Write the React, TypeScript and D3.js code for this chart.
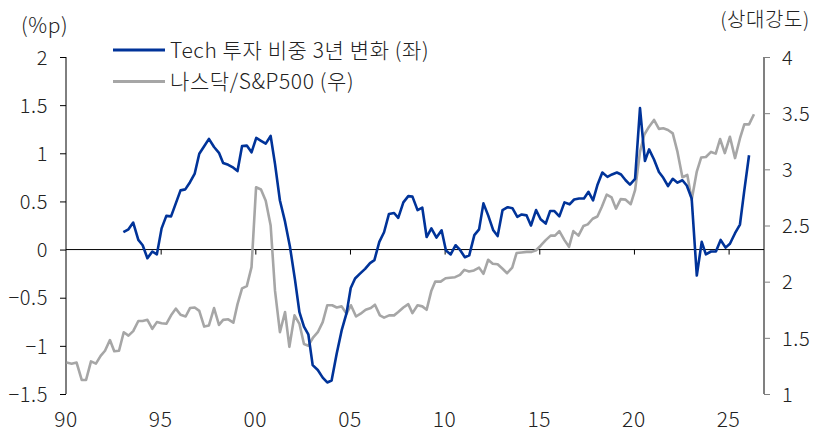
import * as d3 from 'd3';
import React, { useEffect, useRef } from 'react';

// Tech 투자 비중 3년 변화 (좌, %p)
const techYears = [
  1993.03, 1993.3, 1993.55, 1993.82, 1994.05, 1994.3, 1994.56, 1994.8, 1995.05, 1995.3, 1995.55, 1995.8,
  1996.05, 1996.3, 1996.55, 1996.8, 1997.04, 1997.29, 1997.55, 1997.82, 1998.08, 1998.3, 1998.57, 1998.84,
  1999.06, 1999.3, 1999.55, 1999.8, 2000.05, 2000.3, 2000.55, 2000.81, 2001.04, 2001.3, 2001.57, 2001.83,
  2002.1, 2002.33, 2002.57, 2002.8, 2003.03, 2003.3, 2003.56, 2003.8, 2004.03, 2004.3, 2004.56, 2004.82,
  2005.04, 2005.27, 2005.53, 2005.8, 2006.06, 2006.29, 2006.55, 2006.8, 2007.06, 2007.33, 2007.55, 2007.82,
  2008.08, 2008.3, 2008.57, 2008.82, 2009.05, 2009.3, 2009.57, 2009.84, 2010.07, 2010.32, 2010.58, 2010.8,
  2011.07, 2011.3, 2011.57, 2011.82, 2012.05, 2012.3, 2012.57, 2012.8, 2013.06, 2013.33, 2013.58, 2013.84,
  2014.07, 2014.33, 2014.56, 2014.83, 2015.07, 2015.34, 2015.57, 2015.8, 2016.06, 2016.33, 2016.6, 2016.84,
  2017.1, 2017.36, 2017.6, 2017.84, 2018.07, 2018.33, 2018.6, 2018.84, 2019.1, 2019.32, 2019.56, 2019.79,
  2020.06, 2020.32, 2020.58, 2020.8, 2021.06, 2021.32, 2021.55, 2021.8, 2022.05, 2022.3, 2022.56, 2022.79,
  2023.05, 2023.32, 2023.58, 2023.8, 2024.07, 2024.33, 2024.58, 2024.84, 2025.07, 2025.34, 2025.6, 2025.83,
  2026.08,
];
const techValues = [
  0.18, 0.21, 0.28, 0.1, 0.045, -0.09, -0.02, -0.05, 0.22, 0.35, 0.345, 0.48,
  0.615, 0.625, 0.7, 0.79, 0.995, 1.07, 1.15, 1.065, 1.005, 0.9, 0.88, 0.85,
  0.815, 1.075, 1.08, 1.01, 1.16, 1.13, 1.1, 1.18, 0.89, 0.51, 0.29, 0.03,
  -0.32, -0.65, -0.8, -0.88, -1.2, -1.25, -1.33, -1.38, -1.36, -1.08, -0.84, -0.66,
  -0.4, -0.3, -0.25, -0.2, -0.14, -0.11, 0.08, 0.18, 0.37, 0.38, 0.33, 0.49,
  0.555, 0.55, 0.41, 0.435, 0.13, 0.22, 0.125, 0.2, -0.01, -0.05, 0.045, 0.0,
  -0.08, -0.06, 0.15, 0.21, 0.48, 0.355, 0.2, 0.14, 0.41, 0.44, 0.43, 0.34,
  0.365, 0.355, 0.25, 0.41, 0.315, 0.27, 0.4, 0.4, 0.345, 0.49, 0.47, 0.52,
  0.53, 0.53, 0.6, 0.51, 0.67, 0.8, 0.755, 0.78, 0.8, 0.78, 0.72, 0.675,
  0.735, 1.47, 0.92, 1.04, 0.935, 0.805, 0.745, 0.66, 0.735, 0.695, 0.72, 0.665,
  0.53, -0.27, 0.08, -0.05, -0.02, -0.02, 0.1, 0.02, 0.06, 0.17, 0.26, 0.615,
  0.98,
];

// 나스닥/S&P500 상대강도 (우)
const ratioYears = [
  1990.03, 1990.3, 1990.56, 1990.83, 1991.06, 1991.32, 1991.58, 1991.83, 1992.06, 1992.32, 1992.55, 1992.8,
  1993.05, 1993.3, 1993.55, 1993.82, 1994.05, 1994.3, 1994.56, 1994.8, 1995.05, 1995.3, 1995.55, 1995.8,
  1996.05, 1996.32, 1996.55, 1996.8, 1997.04, 1997.3, 1997.55, 1997.82, 1998.08, 1998.3, 1998.57, 1998.84,
  1999.06, 1999.3, 1999.55, 1999.8, 2000.04, 2000.3, 2000.55, 2000.81, 2001.04, 2001.3, 2001.57, 2001.8,
  2002.07, 2002.33, 2002.57, 2002.8, 2003.06, 2003.3, 2003.56, 2003.8, 2004.06, 2004.3, 2004.56, 2004.82,
  2005.05, 2005.32, 2005.56, 2005.83, 2006.1, 2006.32, 2006.58, 2006.8, 2007.07, 2007.33, 2007.55, 2007.82,
  2008.08, 2008.3, 2008.57, 2008.82, 2009.05, 2009.3, 2009.5, 2009.79, 2010.05, 2010.28, 2010.55, 2010.81,
  2011.04, 2011.29, 2011.55, 2011.82, 2012.05, 2012.3, 2012.54, 2012.8, 2013.06, 2013.3, 2013.57, 2013.8,
  2014.07, 2014.33, 2014.6, 2014.83, 2015.07, 2015.34, 2015.6, 2015.83, 2016.06, 2016.33, 2016.57, 2016.8,
  2017.07, 2017.33, 2017.56, 2017.82, 2018.07, 2018.3, 2018.56, 2018.82, 2019.05, 2019.3, 2019.56, 2019.83,
  2020.06, 2020.32, 2020.55, 2020.8, 2021.06, 2021.32, 2021.55, 2021.8, 2022.05, 2022.3, 2022.56, 2022.82,
  2023.05, 2023.32, 2023.55, 2023.8, 2024.07, 2024.32, 2024.55, 2024.8, 2025.07, 2025.34, 2025.6, 2025.83,
  2026.08, 2026.34,
];
const ratioValues = [
  1.28, 1.27, 1.28, 1.125, 1.125, 1.29, 1.27, 1.34, 1.385, 1.48, 1.38, 1.385,
  1.55, 1.52, 1.56, 1.65, 1.65, 1.66, 1.58, 1.64, 1.63, 1.625, 1.7, 1.76,
  1.705, 1.69, 1.765, 1.77, 1.74, 1.6, 1.61, 1.765, 1.615, 1.66, 1.665, 1.635,
  1.8, 1.94, 1.96, 2.13, 2.84, 2.82, 2.72, 2.5, 1.92, 1.55, 1.73, 1.42,
  1.7, 1.625, 1.445, 1.43, 1.505, 1.55, 1.64, 1.79, 1.79, 1.77, 1.78, 1.715,
  1.79, 1.69, 1.715, 1.75, 1.765, 1.795, 1.7, 1.68, 1.7, 1.7, 1.73, 1.77,
  1.8, 1.72, 1.79, 1.78, 1.75, 1.92, 2.0, 2.0, 2.03, 2.035, 2.04, 2.06,
  2.105, 2.09, 2.1, 2.125, 2.07, 2.195, 2.16, 2.155, 2.115, 2.075, 2.125, 2.255,
  2.26, 2.265, 2.265, 2.28, 2.32, 2.37, 2.41, 2.41, 2.45, 2.37, 2.31, 2.45,
  2.41, 2.495, 2.51, 2.56, 2.58, 2.665, 2.775, 2.75, 2.65, 2.735, 2.73, 2.69,
  2.815, 3.155, 3.31, 3.38, 3.44, 3.36, 3.365, 3.35, 3.32, 3.155, 2.93, 2.95,
  2.73, 2.98, 3.105, 3.11, 3.155, 3.14, 3.27, 3.145, 3.29, 3.1, 3.275, 3.4,
  3.4, 3.49,
];

const xTicks = [1990, 1995, 2000, 2005, 2010, 2015, 2020, 2025];
const xTickLabels = ['90', '95', '00', '05', '10', '15', '20', '25'];
const leftTicks = [-1.5, -1, -0.5, 0, 0.5, 1, 1.5, 2];
const rightTicks = [1, 1.5, 2, 2.5, 3, 3.5, 4];

const legendLabels = ['Tech 투자 비중 3년 변화 (좌)', '나스닥/S&P500 (우)'];

const BLUE = '#003399';
const GRAY = '#a6a6a6';
const FONT = '"Noto Sans CJK KR", "Noto Sans", sans-serif';

const App = () => {
  const chartRef = useRef(null);

  useEffect(() => {
    drawChart();
  }, []);

  const drawChart = () => {
    const svg = d3.select(chartRef.current);
    svg.selectAll('*').remove();

    const left = 66;
    const right = 764;
    const top = 57;
    const bottom = 394;

    const x = d3.scaleLinear().domain([1990, 2026.87]).range([left, right]);
    const yL = d3.scaleLinear().domain([-1.5, 2]).range([bottom, top]);
    const yR = d3.scaleLinear().domain([1, 4]).range([bottom, top]);

    const textStyle = (sel, size) => sel
      .attr('fill', '#222')
      .style('font-size', `${size}px`)
      .style('font-family', FONT)
      .style('font-weight', 300)
      .style('letter-spacing', '0.6px');

    // left axis
    const gL = svg.append('g').attr('transform', `translate(${left},0)`);
    gL.call(d3.axisLeft(yL).tickValues(leftTicks).tickSize(6).tickPadding(12)
      .tickFormat(d => d3.format('')(d)));
    gL.select('.domain').attr('stroke', '#000').attr('d', `M0,${top}V${bottom}`);
    gL.selectAll('.tick line').attr('stroke', '#000');
    textStyle(gL.selectAll('.tick text'), 20).attr('dy', '0.36em');

    // right axis
    const gR = svg.append('g').attr('transform', `translate(${right},0)`);
    gR.call(d3.axisRight(yR).tickValues(rightTicks).tickSize(6).tickPadding(12)
      .tickFormat(d => d3.format('')(d)));
    gR.select('.domain').attr('stroke', '#808080').attr('stroke-width', 2)
      .attr('d', `M0,${top}V${bottom}`);
    gR.selectAll('.tick line').attr('stroke', '#808080');
    textStyle(gR.selectAll('.tick text'), 20).attr('dy', '0.36em');

    // zero line with year ticks
    const gX = svg.append('g').attr('transform', `translate(0,${yL(0)})`);
    gX.call(d3.axisBottom(x).tickValues(xTicks.slice(1)).tickSize(5).tickFormat(() => ''));
    gX.select('.domain').attr('stroke', '#000').attr('d', `M${left},0H${right}`);
    gX.selectAll('.tick line').attr('stroke', '#000');

    textStyle(svg.append('g')
      .selectAll('text')
      .data(xTicks)
      .enter().append('text')
      .attr('x', d => x(d))
      .attr('y', 427)
      .attr('text-anchor', 'middle')
      .text((d, i) => xTickLabels[i]), 21);

    const ratioLine = d3.line<number>()
      .x((d, i) => x(ratioYears[i]))
      .y(d => yR(d));
    const techLine = d3.line<number>()
      .x((d, i) => x(techYears[i]))
      .y(d => yL(d));

    svg.append('path')
      .attr('d', ratioLine(ratioValues))
      .attr('fill', 'none')
      .attr('stroke', GRAY)
      .attr('stroke-width', 2.6)
      .attr('stroke-linejoin', 'round');

    svg.append('path')
      .attr('d', techLine(techValues))
      .attr('fill', 'none')
      .attr('stroke', BLUE)
      .attr('stroke-width', 2.6)
      .attr('stroke-linejoin', 'round');

    // legend
    const legend = svg.append('g');
    [BLUE, GRAY].forEach((c, i) => {
      const ly = 50 + i * 31.5;
      legend.append('line')
        .attr('x1', 113).attr('x2', 165)
        .attr('y1', ly).attr('y2', ly)
        .attr('stroke', c).attr('stroke-width', 3);
      textStyle(legend.append('text')
        .attr('x', 170).attr('y', ly)
        .attr('dy', '0.36em')
        .text(legendLabels[i]), 21);
    });

    // unit labels
    textStyle(svg.append('text')
      .attr('x', 21).attr('y', 25).attr('dy', '0.36em')
      .text('(%p)'), 21);
    textStyle(svg.append('text')
      .attr('x', 810).attr('y', 20).attr('dy', '0.36em')
      .attr('text-anchor', 'end')
      .text('(상대강도)'), 20);
  };

  return (
    <div style={{ position: 'absolute', left: 0, top: 0 }}>
      <svg ref={chartRef} width={817} height={432} style={{ display: 'block', background: '#fff' }}></svg>
    </div>
  );
};

export default App;
